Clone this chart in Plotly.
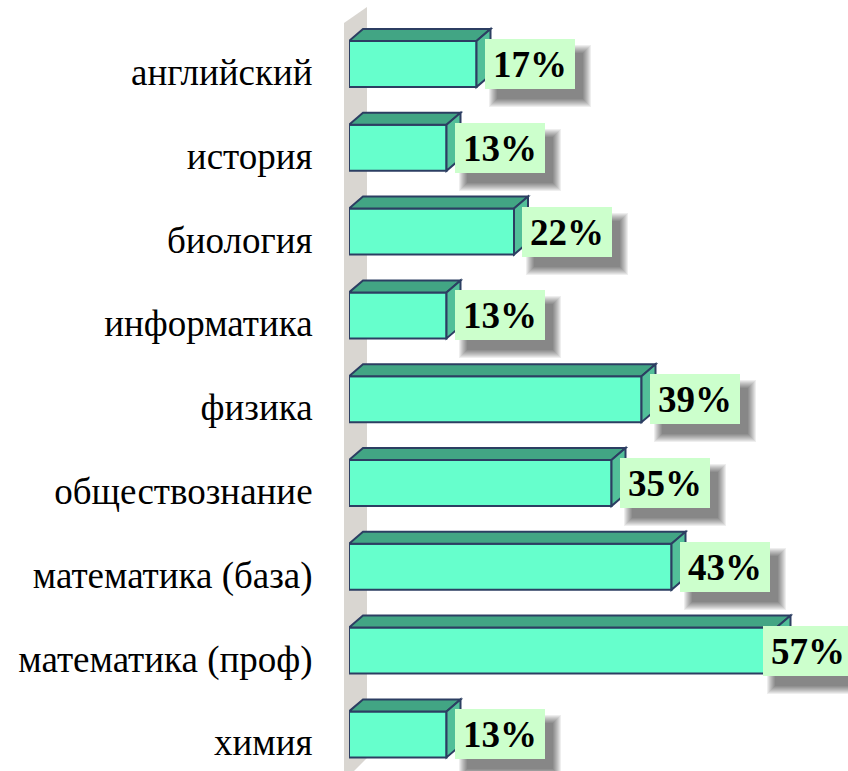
import plotly.graph_objects as go

# Subjects (top to bottom) and share of students, %
subjects = ["английский", "история", "биология", "информатика", "физика",
            "обществознание", "математика (база)", "математика (проф)", "химия"]
shares = [17, 13, 22, 13, 39, 35, 43, 57, 13]

W, H = 848, 771
LEFT = 349                      # left edge of the plotting area, px
PX_X = 7.5                      # px per percent
PX_Y = 83.8                     # px per category step
X_MAX = (W - LEFT) / PX_X
Y_TOP = -72 / PX_Y
Y_BOT = Y_TOP + H / PX_Y

# 3-D look: depth of the bars in pixels, converted to axis units
DX = 14 / PX_X
DY = 12 / PX_Y
BAR_TOP = -31 / PX_Y            # front face top relative to category
BAR_H = 46 / PX_Y               # front face height
FACE_MID = BAR_TOP + BAR_H / 2

FRONT = "#66FFCC"
TOPC = "#42A584"
SIDEC = "#52BF99"
EDGE = "#2C3E62"
WALL = "#D9D6D1"
LABEL_BG = "#CCFFCC"

ypos = list(range(len(subjects)))

fig = go.Figure()
fig.add_trace(go.Bar(
    x=shares, y=ypos, orientation="h",
    width=BAR_H, offset=BAR_TOP,
    marker=dict(color=FRONT, line=dict(color=EDGE, width=2)),
    hoverinfo="skip",
))

shapes = []


def px_to_paper(px, py):
    return (px - LEFT) / (W - LEFT), 1 - py / H


# back wall of the 3-D plot
wall_pts = [px_to_paper(*p) for p in [(344, 23), (367, 7), (367, 758), (354, 771), (344, 771)]]
wall_path = "M " + " L ".join(f"{x:.5f},{y:.5f}" for x, y in wall_pts) + " Z"
shapes.append(dict(type="path", xref="paper", yref="paper", path=wall_path,
                   fillcolor=WALL, line=dict(width=0), layer="below"))

for yi, v in zip(ypos, shares):
    t = yi + BAR_TOP
    b = t + BAR_H
    top_face = f"M 0,{t} L {DX},{t - DY} L {v + DX},{t - DY} L {v},{t} Z"
    side_face = f"M {v},{t} L {v + DX},{t - DY} L {v + DX},{b - DY} L {v},{b} Z"
    for path, col in ((top_face, TOPC), (side_face, SIDEC)):
        shapes.append(dict(type="path", xref="x", yref="y", path=path,
                           fillcolor=col, line=dict(color=EDGE, width=2),
                           layer="above"))

annotations = []
BOX_W, BOX_H = 90, 50
MAX_LEFT_PX = W - 85            # keep the label box inside the figure


def label_shift(v):
    # pixel offset from the bar end to the left edge of its label box
    bar_end = LEFT + v * PX_X
    return min(bar_end + 8, MAX_LEFT_PX) - bar_end


# soft drop shadows behind the value labels (stacked translucent boxes)
for yi, v in zip(ypos, shares):
    for k in range(9):
        grow = k - 2
        annotations.append(dict(
            x=v, y=yi + FACE_MID, xref="x", yref="y", text=" ",
            showarrow=False, xanchor="left", yanchor="middle",
            xshift=label_shift(v) + 10 - grow, yshift=-12,
            width=BOX_W + 2 * grow, height=BOX_H + 2 * grow,
            bgcolor="rgba(0,0,0,0.065)", borderpad=0, borderwidth=0,
        ))
# value labels
for yi, v in zip(ypos, shares):
    annotations.append(dict(
        x=v, y=yi + FACE_MID, xref="x", yref="y", text=f"<b>{v}%</b>",
        showarrow=False, xanchor="left", yanchor="middle",
        xshift=label_shift(v), width=BOX_W, height=BOX_H,
        bgcolor=LABEL_BG, borderpad=0, borderwidth=0,
        font=dict(family="Liberation Serif", size=37, color="black"),
    ))

fig.update_layout(
    width=W, height=H,
    margin=dict(l=LEFT, r=0, t=0, b=0),
    paper_bgcolor="white", plot_bgcolor="white",
    showlegend=False,
    shapes=shapes, annotations=annotations,
    xaxis=dict(range=[0, X_MAX], visible=False, fixedrange=True),
    yaxis=dict(
        range=[Y_BOT, Y_TOP], tickmode="array", tickvals=ypos, ticktext=subjects,
        ticks="outside", ticklen=28, tickcolor="rgba(0,0,0,0)",
        showgrid=False, zeroline=False, showline=False,
        tickfont=dict(family="Liberation Serif", size=37, color="black"),
        fixedrange=True,
    ),
)

fig.write_html("out.html")
